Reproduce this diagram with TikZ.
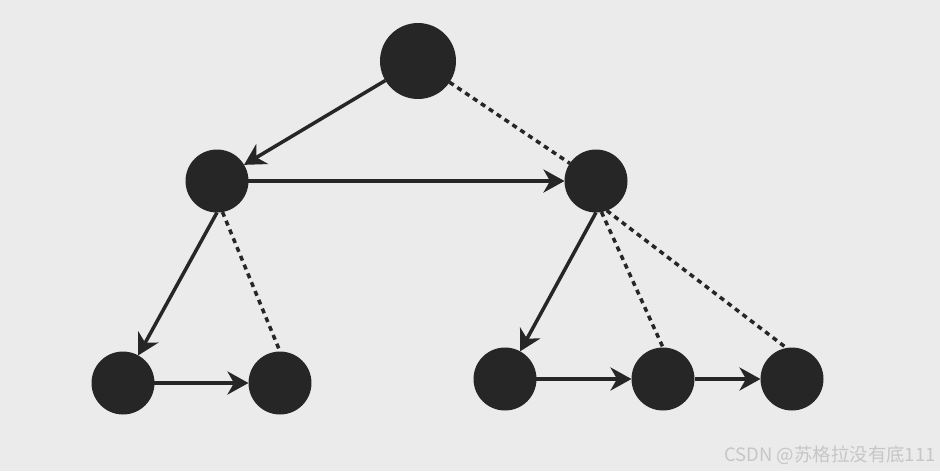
\documentclass[tikz,border=0pt]{standalone}
\usepackage{fontspec}
\usepackage{xcolor}
\usepackage{tikz}
\usetikzlibrary{arrows.meta}
\newfontfamily\cjk{Noto Sans CJK SC}
\definecolor{bgx}{HTML}{EBEBEB}
\definecolor{inkx}{HTML}{262626}
\definecolor{markx}{HTML}{C6C6C6}
\tikzset{
  dot/.style={circle,fill=inkx,inner sep=0pt,outer sep=0pt,minimum size=1.26cm},
  bigdot/.style={dot,minimum size=1.52cm},
  ar/.style={-{Stealth[length=0.42cm,width=0.46cm,inset=0.13cm]},line width=0.07cm,inkx},
  dl/.style={line width=0.07cm,inkx,dash pattern=on 0.1cm off 0.09cm}
}

\begin{document}
\begin{tikzpicture}[x=0.02cm,y=-0.02cm]
\fill[bgx] (0,0) rectangle (940,471);
\useasboundingbox (0,0) rectangle (940,471);
% tree
\node[bigdot] (root) at (418,61) {};
\node[dot] (la) at (217,181) {};
\node[dot] (ra) at (596,181) {};
\node[dot] (b1) at (123,383) {};
\node[dot] (b2) at (280,383) {};
\node[dot] (b3) at (505,379) {};
\node[dot] (b4) at (663,379) {};
\node[dot] (b5) at (792,379) {};
% links
\draw[ar] (root) -- (la);
\draw[dl] (root) -- (ra);
\draw[ar] (la) -- (ra);
\draw[ar] (la.south) -- (b1);
\draw[dl] (la.-80) -- (b2.north);
\draw[ar] (b1) -- (b2);
\draw[ar] (ra.south) -- (b3);
\draw[dl] (ra.-80) -- (b4.north);
\draw[dl] (ra.-70) -- (b5.100);
\draw[ar] (b3) -- (b4);
\draw[ar] (b4) -- (b5);
% watermark
\node[anchor=east,inner sep=0pt,text=markx,font=\cjk\fontsize{10.5}{12}\selectfont] (mark) at (936,455) {CSDN @苏格拉没有底111};
\end{tikzpicture}
\end{document}
